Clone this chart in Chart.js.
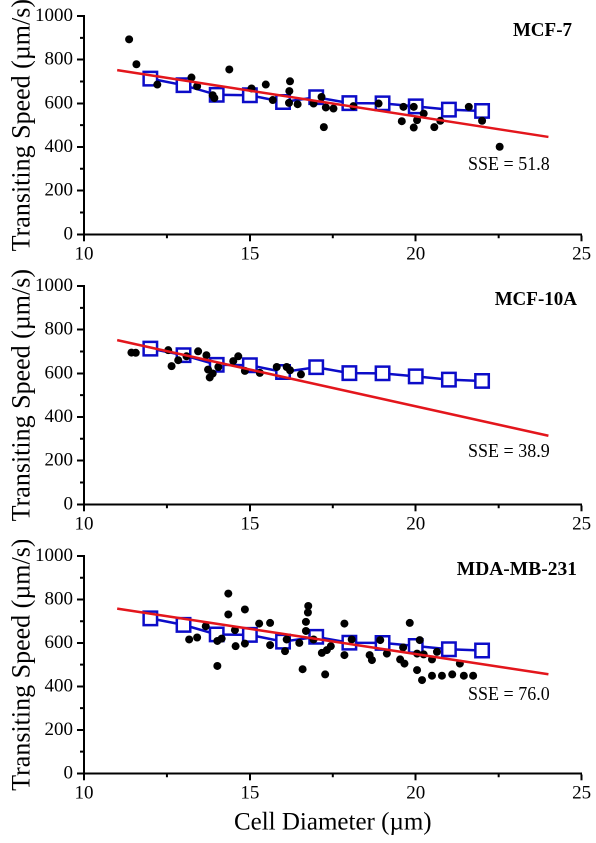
<!DOCTYPE html>
<html>
<head>
<meta charset="utf-8">
<script src="https://cdn.jsdelivr.net/npm/chart.js@4"></script>
<style>
  html, body { margin: 0; padding: 0; background: #fff; }
  #wrap { position: relative; width: 596px; height: 843px; background: #fff; overflow: hidden; }
  canvas { position: absolute; left: 0; }
  .lbl { position: absolute; font-family: 'Liberation Serif', serif; color: #000; line-height: 1; white-space: nowrap; }
  .ttl { font-weight: bold; font-size: 19px; text-align: right; }
  .sse { font-size: 18px; }
</style>
</head>
<body>
<div id="wrap">
  <canvas id="c1" width="596" height="270" style="top:0px;width:596px;height:270px"></canvas>
  <canvas id="c2" width="596" height="270" style="top:270px;width:596px;height:270px"></canvas>
  <canvas id="c3" width="596" height="303" style="top:540px;width:596px;height:303px"></canvas>
  <div class="lbl ttl" style="right:24px;top:20px">MCF-7</div>
  <div class="lbl ttl" style="right:19px;top:289px">MCF-10A</div>
  <div class="lbl ttl" style="right:19px;top:559px;font-size:19.5px">MDA-MB-231</div>
  <div class="lbl sse" style="left:468px;top:155px">SSE = 51.8</div>
  <div class="lbl sse" style="left:468px;top:442px">SSE = 38.9</div>
  <div class="lbl sse" style="left:468px;top:685px">SSE = 76.0</div>
</div>
<script>
// ---- Data ----
const modelX = [12, 13, 14, 15, 16, 17, 18, 19, 20, 21, 22];
const modelY = [713, 683, 639, 637, 606, 628, 601, 600, 586, 571, 565];

const fitX = [11, 24];
const mcf7Fit = [752, 446];
const mcf10aFit = [752, 314];
const mdaFit = [758, 456];

const mcf7X = [11.36, 11.58, 12.21, 13.24, 13.41, 13.88, 13.93, 14.38, 15.05, 15.48, 15.69, 16.21, 16.19, 16.18, 16.44, 16.92, 17.16, 17.23, 17.29, 17.52, 18.12, 18.88, 19.63, 19.58, 19.94, 19.94, 20.04, 20.24, 20.56, 20.74, 21.6, 22.0, 22.53];
const mcf7Y = [893, 779, 686, 718, 678, 637, 624, 755, 668, 686, 615, 701, 656, 602, 596, 599, 629, 491, 581, 576, 587, 599, 584, 518, 584, 489, 523, 553, 491, 520, 584, 520, 401];

const mcf10aX = [11.43, 11.56, 12.54, 12.64, 12.84, 13.09, 13.44, 13.69, 13.74, 13.79, 13.88, 14.05, 14.5, 14.65, 14.85, 15.3, 15.81, 16.11, 16.21, 16.54];
const mcf10aY = [695, 694, 706, 633, 660, 678, 701, 683, 617, 581, 599, 629, 656, 678, 611, 602, 629, 629, 614, 595];

const mdaX = [13.17, 13.41, 13.67, 14.02, 14.02, 14.15, 14.35, 14.35, 14.55, 14.57, 14.85, 14.85, 15.28, 15.61, 15.61, 16.06, 16.11, 16.49, 16.59, 16.76, 16.75, 16.69, 16.69, 16.92, 17.17, 17.27, 17.32, 17.44, 17.85, 17.85, 18.07, 18.61, 18.68, 18.93, 19.13, 19.53, 19.66, 19.62, 19.82, 20.12, 20.04, 20.19, 20.04, 20.24, 20.49, 20.49, 20.64, 20.79, 21.1, 21.33, 21.45, 21.73];
const mdaY = [616, 625, 677, 609, 494, 620, 827, 731, 659, 585, 754, 597, 689, 692, 590, 562, 616, 600, 479, 770, 740, 697, 655, 616, 554, 455, 567, 585, 689, 544, 616, 544, 521, 613, 551, 524, 505, 579, 692, 613, 475, 429, 551, 547, 524, 449, 559, 449, 455, 505, 449, 449];

const xTicksMajor = [10, 15, 20, 25];
const xTicksMinor = [12.5, 17.5, 22.5];
const yTicksMinor = [100, 300, 500, 700, 900];

const xTitle = 'Cell Diameter (µm)';
const yTitle = 'Transiting Speed (µm/s)';

// ---- Style ----
const BLUE = '#0c0cc8';
const RED = '#e3161c';
const FONT = 'Liberation Serif';

const pts = (xs, ys) => xs.map((x, i) => ({ x: x, y: ys[i] }));

const minorTicks = {
  id: 'minorTicks',
  afterDraw(chart) {
    const ctx = chart.ctx, xs = chart.scales.x, ys = chart.scales.y;
    ctx.save();
    ctx.strokeStyle = '#000';
    ctx.lineWidth = 2;
    ctx.beginPath();
    yTicksMinor.forEach(v => {
      const py = ys.getPixelForValue(v);
      ctx.moveTo(ys.right - 4, py); ctx.lineTo(ys.right, py);
    });
    xTicksMinor.forEach(v => {
      const px = xs.getPixelForValue(v);
      ctx.moveTo(px, xs.top); ctx.lineTo(px, xs.top + 4);
    });
    ctx.stroke();
    ctx.restore();
  }
};

function makeChart(id, sx, sy, fitY, showXTitle, xHeight) {
  return new Chart(document.getElementById(id), {
    type: 'scatter',
    data: {
      datasets: [
        { type: 'line', data: pts(fitX, fitY), borderColor: RED, borderWidth: 2.5, pointRadius: 0, fill: false, order: 0 },
        { data: pts(sx, sy), backgroundColor: '#000', borderColor: '#000', pointRadius: 4, borderWidth: 0, order: 1 },
        { type: 'line', data: pts(modelX, modelY), borderColor: BLUE, borderWidth: 2.5, pointStyle: 'rect', pointRadius: 9.5, pointBorderWidth: 2.5, pointBackgroundColor: '#fff', pointBorderColor: BLUE, fill: false, order: 2 }
      ]
    },
    options: {
      responsive: false,
      animation: false,
      devicePixelRatio: 2,
      layout: { padding: { left: 0, right: 14.4, top: 16, bottom: 0 } },
      plugins: { legend: { display: false }, tooltip: { enabled: false } },
      scales: {
        x: {
          type: 'linear', min: 10, max: 25,
          afterFit: s => { s.height = xHeight; },
          afterBuildTicks: s => { s.ticks = xTicksMajor.map(v => ({ value: v })); },
          ticks: { color: '#000', font: { family: FONT, size: 19 }, padding: 2, maxRotation: 0, callback: v => String(v) },
          grid: { drawOnChartArea: false, drawTicks: true, tickLength: 7, tickWidth: 2, tickColor: '#000', color: '#000' },
          border: { display: true, color: '#000', width: 2 },
          title: { display: showXTitle, text: xTitle, color: '#000', font: { family: FONT, size: 25 }, padding: { top: 0, bottom: 5 } }
        },
        y: {
          type: 'linear', min: 0, max: 1000,
          afterFit: s => { s.width = 84; },
          ticks: { stepSize: 200, color: '#000', font: { family: FONT, size: 19 }, padding: 4, callback: v => String(v) },
          grid: { drawOnChartArea: false, drawTicks: true, tickLength: 7, tickWidth: 2, tickColor: '#000', color: '#000' },
          border: { display: true, color: '#000', width: 2 },
          title: { display: true, text: yTitle, color: '#000', font: { family: FONT, size: 26 }, padding: { top: 7, bottom: 0 } }
        }
      }
    },
    plugins: [minorTicks]
  });
}

makeChart('c1', mcf7X, mcf7Y, mcf7Fit, false, 35.7);
makeChart('c2', mcf10aX, mcf10aY, mcf10aFit, false, 35.7);
makeChart('c3', mdaX, mdaY, mdaFit, true, 69.7);
</script>
</body>
</html>
